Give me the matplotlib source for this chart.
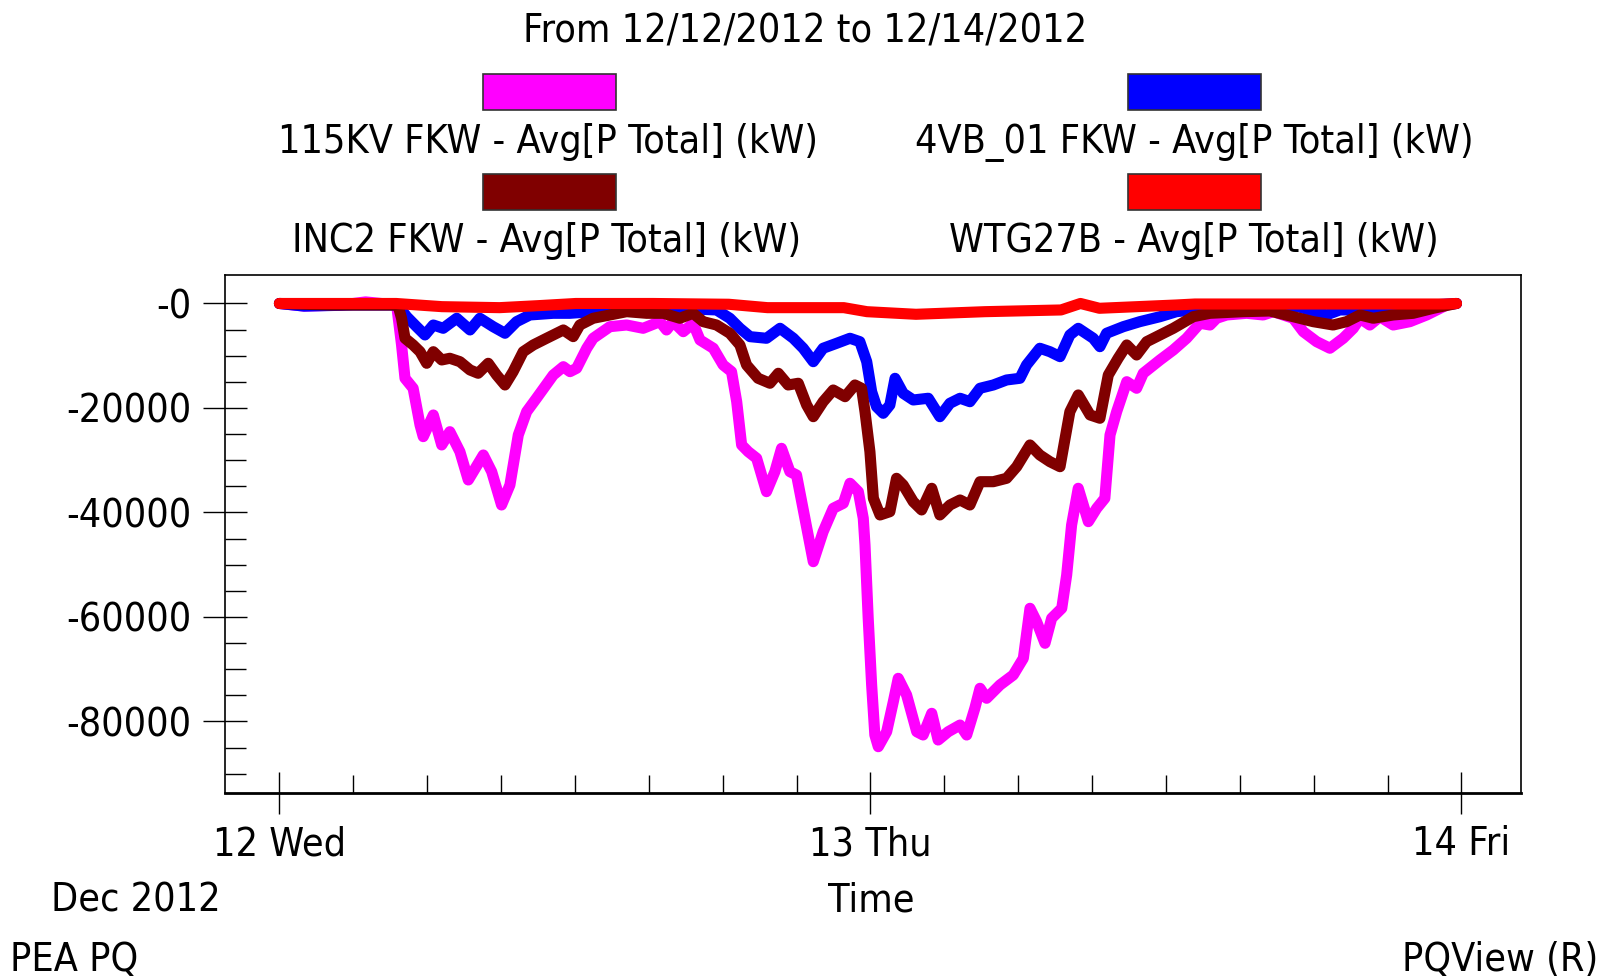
import numpy as np
import matplotlib
matplotlib.use("Agg")
import matplotlib.pyplot as plt
from matplotlib import font_manager as fm
from matplotlib.patches import Rectangle

# ------------------------------------
# Data (hours from 12 Dec 2012 00:00, kW)
# ------------------------------------

kv115_h = [0, 1.0, 2.5, 3.5, 4.76, 4.96, 5.10, 5.43, 5.71, 5.84, 6.25, 6.59, 6.92, 7.33,
           7.67, 8.28, 8.62, 9.02, 9.36, 9.70, 10.04, 10.44, 11.12, 11.53, 11.80, 12.07,
           12.48, 12.74, 13.42, 14.10, 14.77, 15.45, 15.72, 15.99, 16.40, 16.80, 17.08,
           17.62, 18.02, 18.36, 18.57, 18.77, 19.04, 19.38, 19.78, 20.12, 20.39, 20.73,
           21.00, 21.34, 21.68, 22.08, 22.49, 22.90, 23.17, 23.51, 23.71, 23.78, 23.91,
           24.05, 24.18, 24.32, 24.66, 24.93, 25.13, 25.47, 25.88, 26.14, 26.49, 26.75,
           27.16, 27.64, 27.91, 28.24, 28.45, 28.72, 29.26, 29.80, 30.21, 30.48, 30.75,
           31.09, 31.36, 31.77, 31.97, 32.17, 32.44, 32.85, 33.19, 33.52, 33.73, 34.00,
           34.41, 34.81, 35.08, 35.76, 36.30, 36.84, 37.38, 37.79, 38.06, 38.47, 39.28,
           39.95, 40.36, 41.17, 41.58, 42.12, 42.66, 43.20, 43.61, 43.88, 44.28, 44.69,
           45.23, 45.91, 46.59, 47.00, 47.40, 47.8]
kv115_kw = [0, -500, -300, 300, -300, -7940, -14320, -16230, -23260, -25490, -21340,
            -27080, -24540, -28370, -33780, -29000, -32190, -38570, -34740, -25170, -20710,
            -18140, -13690, -12100, -13050, -12400, -8570, -6660, -4440, -4120, -4750,
            -3480, -5070, -3480, -5400, -3790, -6990, -8570, -11770, -13050, -18800, -27080,
            -28370, -29630, -36020, -32190, -27720, -32190, -32830, -41110, -49420, -43680,
            -39200, -38240, -34410, -36020, -41110, -46220, -60250, -73020, -82590, -84830,
            -81960, -76220, -71740, -74930, -81960, -82590, -78440, -83550, -81960, -80680,
            -82590, -77480, -73650, -75560, -73020, -71110, -67910, -58340, -60900, -65040,
            -60250, -58340, -51970, -42400, -35370, -41760, -39200, -37280, -25170, -20710,
            -14970, -16230, -13360, -10810, -8900, -6660, -3790, -4120, -2830, -2200, -1880,
            -2200, -1570, -2830, -5400, -7310, -8570, -6660, -4750, -2830, -4120, -2530,
            -4120, -3480, -2200, -1240, -290, 0]

vb4_h = [0, 1.0, 3.0, 4.81, 5.17, 5.57, 5.91, 6.25, 6.65, 7.20, 7.74, 8.14, 8.68, 9.16,
         9.63, 10.17, 11.12, 11.80, 12.74, 14.10, 15.45, 16.80, 17.75, 18.29, 18.70, 19.11,
         19.78, 20.33, 20.87, 21.27, 21.68, 22.08, 22.63, 23.17, 23.57, 23.85, 24.05, 24.25,
         24.52, 24.79, 25.00, 25.33, 25.74, 26.35, 26.82, 27.23, 27.64, 28.04, 28.45, 28.99,
         29.53, 30.07, 30.34, 30.88, 31.29, 31.70, 32.10, 32.44, 33.05, 33.32, 33.59, 34.27,
         34.94, 35.76, 36.43, 37.11, 38.6, 41.4, 42.52, 43.06, 44.15, 45.5, 47.8]
vb4_kw = [0, -500, -300, -300, -2530, -4440, -6030, -4120, -4750, -2830, -5070, -2830,
          -4440, -5700, -3480, -2200, -1880, -1880, -1570, -920, -920, -1050, -1240, -2830,
          -4750, -6350, -6660, -4750, -6660, -8570, -11140, -8570, -7620, -6660, -7310,
          -11140, -16880, -19750, -21020, -19430, -14320, -17190, -18470, -18140, -21670,
          -19100, -18140, -18800, -16230, -15600, -14640, -14320, -11770, -8570, -9230,
          -10180, -6030, -4750, -6660, -8270, -5700, -4440, -3480, -2530, -1570, -1240,
          -670, -670, -2200, -1240, -1240, -670, 0]

inc2_h = [0, 2.0, 4.81, 4.96, 5.10, 5.43, 5.71, 5.98, 6.25, 6.59, 6.92, 7.33, 7.74, 8.07,
          8.48, 8.82, 9.16, 9.49, 9.90, 10.31, 10.85, 11.53, 11.93, 12.20, 12.74, 13.42,
          14.10, 14.91, 15.59, 16.26, 16.80, 17.21, 17.75, 18.29, 18.70, 18.97, 19.44, 19.92,
          20.26, 20.66, 21.07, 21.41, 21.68, 22.08, 22.49, 22.97, 23.37, 23.64, 23.78, 23.98,
          24.12, 24.39, 24.79, 25.06, 25.33, 25.74, 26.08, 26.49, 26.82, 27.23, 27.64, 28.04,
          28.45, 28.99, 29.53, 29.94, 30.48, 30.88, 31.29, 31.70, 32.10, 32.44, 32.92, 33.32,
          33.66, 34.06, 34.41, 34.81, 35.22, 35.76, 36.30, 37.11, 37.79, 39.14, 40.22, 41.17,
          41.98, 42.79, 43.34, 43.88, 44.42, 45.23, 46.04, 46.86, 47.8]
inc2_kw = [0, -300, -300, -2830, -6660, -7940, -9230, -11450, -9230, -10810, -10490,
           -11140, -12730, -13360, -11450, -13690, -15600, -13050, -9230, -7940, -6660,
           -5070, -6350, -4120, -2830, -2200, -1570, -1880, -1880, -2830, -1880, -3480,
           -4120, -5700, -7940, -11770, -14320, -15270, -13360, -15600, -15270, -19430,
           -21670, -18800, -16560, -17840, -15600, -16230, -20710, -28370, -37280, -40480,
           -39850, -33460, -34740, -37940, -39520, -35370, -40480, -38570, -37610, -38570,
           -34110, -34110, -33460, -31240, -27080, -29000, -30280, -31240, -20710, -17510,
           -21340, -21970, -13690, -10490, -7940, -9860, -7310, -6030, -4750, -2530, -1880,
           -1570, -1440, -2530, -3480, -4120, -3480, -2200, -2830, -2200, -1880, -920, 0]

wtg_h = [0, 4.74, 6.60, 8.94, 10.50, 12.04, 15.16, 18.25, 19.82, 22.92, 23.86, 25.85,
         28.65, 31.74, 32.53, 33.30, 36.41, 37.18, 47.29, 47.8]
wtg_kw = [0, 0, -610, -800, -420, 0, 0, -150, -800, -800, -1570, -2070, -1570, -1240, 0,
          -920, -290, -100, -100, 0]

series_names = ["115KV FKW - Avg[P Total] (kW)", "4VB_01 FKW - Avg[P Total] (kW)",
                "INC2 FKW - Avg[P Total] (kW)", "WTG27B - Avg[P Total] (kW)"]
colors = ["#ff00ff", "#0000ff", "#800000", "#ff0000"]

day_ticks = [0, 24, 48]
day_labels = ["12 Wed", "13 Thu", "14 Fri"]
y_major = [0, -20000, -40000, -60000, -80000]
y_labels = ["-0", "-20000", "-40000", "-60000", "-80000"]

# ------------------------------------
# Font: condensed DejaVu looks closest to the original Tahoma
# ------------------------------------

cond = [f.fname for f in fm.fontManager.ttflist
        if f.fname.endswith("DejaVuSansCondensed.ttf")]
if cond:
    fp = fm.FontProperties(fname=cond[0], size=28.3)
else:
    fp = fm.FontProperties(family="DejaVu Sans", size=25)

W, H = 1611, 980


def fx(x):
    return x / W


def fy(y):
    return 1 - y / H


fig = plt.figure(figsize=(W / 100, H / 100), dpi=100)
ax = fig.add_axes([fx(225), fy(793), fx(1521 - 225), (793 - 275) / H])

xs = [kv115_h, vb4_h, inc2_h, wtg_h]
ys = [kv115_kw, vb4_kw, inc2_kw, wtg_kw]
for h, kw, c in zip(xs, ys, colors):
    ax.plot(h, kw, color=c, lw=8, solid_capstyle="round", solid_joinstyle="round")

ax.set_xlim(-2.21, 50.42)
ax.set_ylim(-93690, 5450)

ax.set_xticks(day_ticks)
ax.set_xticklabels(day_labels)
ax.set_xticks(np.arange(3, 48, 3), minor=True)
ax.set_yticks(y_major)
ax.set_yticklabels(y_labels)
ax.set_yticks(np.arange(-90000, 0, 5000), minor=True)

ax.tick_params(axis="x", which="major", direction="inout", length=30.5, width=1, pad=8)
ax.tick_params(axis="x", which="minor", direction="in", length=12.7, width=1)
ax.tick_params(axis="y", which="major", direction="inout", length=31.7, width=1, pad=8)
ax.tick_params(axis="y", which="minor", direction="in", length=15, width=1)
for lbl in ax.get_xticklabels() + ax.get_yticklabels():
    lbl.set_fontproperties(fp)

for s in ax.spines.values():
    s.set_linewidth(1.2)
ax.spines["bottom"].set_linewidth(2)

# ------------------------------------
# Title, legend and footer texts
# ------------------------------------

fig.text(fx(805), fy(42), "From 12/12/2012 to 12/14/2012", ha="center", va="baseline",
         fontproperties=fp)

rect_x = [483, 1128, 483, 1128]
rect_y = [74, 74, 174, 174]
label_x = [548, 1194, 547, 1194]
label_y = [153, 153, 252, 252]
for i in range(4):
    fig.patches.append(Rectangle((fx(rect_x[i]), fy(rect_y[i] + 36)), 133 / W, 36 / H,
                                 transform=fig.transFigure, facecolor=colors[i],
                                 edgecolor="#333333", lw=1.2))
    fig.text(fx(label_x[i]), fy(label_y[i]), series_names[i], ha="center", va="baseline",
             fontproperties=fp)

fig.text(fx(136), fy(911), "Dec 2012", ha="center", va="baseline", fontproperties=fp)
fig.text(fx(871), fy(911), "Time", ha="center", va="baseline", fontproperties=fp)
fig.text(fx(10), fy(971), "PEA PQ", ha="left", va="baseline", fontproperties=fp)
fig.text(fx(1598), fy(971), "PQView (R)", ha="right", va="baseline", fontproperties=fp)

fig.savefig("out.png", dpi=100)
